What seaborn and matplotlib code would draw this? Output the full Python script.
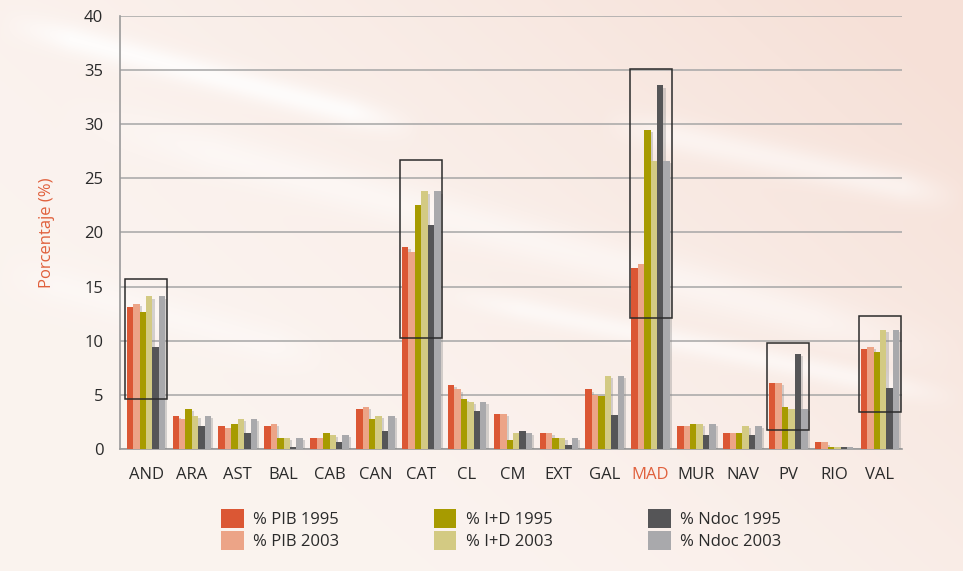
import numpy as np
import pandas as pd
import seaborn as sns
import matplotlib
matplotlib.use("Agg")
import matplotlib.pyplot as plt
from matplotlib.patches import Rectangle, Patch
import matplotlib.patheffects as pe

# ---------------- data ----------------
regions = ["AND", "ARA", "AST", "BAL", "CAB", "CAN", "CAT", "CL", "CM", "EXT",
           "GAL", "MAD", "MUR", "NAV", "PV", "RIO", "VAL"]
pib_1995  = [13.1, 3.05, 2.15, 2.15, 1.05, 3.7, 18.7, 5.95, 3.25, 1.5, 5.5, 16.7, 2.1, 1.5, 6.1, 0.62, 9.2]
pib_2003  = [13.4, 2.8, 1.95, 2.35, 1.05, 3.9, 18.2, 5.5, 3.25, 1.5, 5.0, 17.1, 2.1, 1.5, 6.1, 0.62, 9.4]
id_1995   = [12.7, 3.7, 2.35, 1.05, 1.5, 2.8, 22.5, 4.65, 0.85, 1.05, 4.85, 29.5, 2.3, 1.5, 3.9, 0.15, 8.95]
id_2003   = [14.1, 3.05, 2.8, 1.05, 1.3, 3.05, 23.8, 4.35, 1.5, 1.05, 6.75, 26.6, 2.3, 2.1, 3.7, 0.15, 11.0]
ndoc_1995 = [9.45, 2.15, 1.5, 0.2, 0.65, 1.65, 20.7, 3.55, 1.7, 0.4, 3.1, 33.6, 1.3, 1.3, 8.8, 0.15, 5.65]
ndoc_2003 = [14.1, 3.05, 2.8, 1.05, 1.3, 3.05, 23.8, 4.35, 1.5, 1.05, 6.75, 26.6, 2.3, 2.1, 3.7, 0.15, 11.0]
series_labels = ["% PIB 1995", "% PIB 2003", "% I+D 1995", "% I+D 2003", "% Ndoc 1995", "% Ndoc 2003"]
series_values = [pib_1995, pib_2003, id_1995, id_2003, ndoc_1995, ndoc_2003]
# highlighted regions: (region, lower value, upper value) of the framing box
highlight_boxes = [("AND", 4.6, 15.7), ("CAT", 10.25, 26.7), ("MAD", 12.1, 35.1),
                   ("PV", 1.8, 9.8), ("VAL", 3.4, 12.3)]
highlight_label = "MAD"
y_ticks = [0, 5, 10, 15, 20, 25, 30, 35, 40]

# ---------------- style ----------------
colors = ["#db5734", "#eca487", "#a79b00", "#d3ca83", "#555557", "#a9a9ac"]
accent = "#e0603c"
bg = "#faf0ea"

rows = []
for lab, vals in zip(series_labels, series_values):
    for r, v in zip(regions, vals):
        rows.append({"region": r, "series": lab, "value": v})
df = pd.DataFrame(rows)

sns.set_theme(style="white")
plt.rcParams["font.family"] = ["Open Sans", "DejaVu Sans"]

W, H = 963, 571
fig = plt.figure(figsize=(W / 100, H / 100), dpi=100, facecolor=bg)

# decorative background: soft peach wash with pale diagonal streaks
bax = fig.add_axes([0, 0, 1, 1], zorder=-10)
bax.set_axis_off()
yy, xx = np.mgrid[0:H, 0:W].astype(float)
base = np.array([0.984, 0.953, 0.937])
peach = np.array([0.965, 0.880, 0.845])
t = np.clip((xx / W) * 0.9 - (yy / H) * 0.6 + 0.2, 0, 1) ** 1.5
img = base[None, None, :] * (1 - t[..., None]) + peach[None, None, :] * t[..., None]
streaks = [(0, 20, 420, 130, 14, 0.8), (60, 110, 963, 360, 22, 0.45),
           (430, 290, 963, 400, 12, 0.55), (0, 270, 330, 360, 18, 0.35),
           (600, 120, 963, 200, 16, 0.5)]
light = np.zeros((H, W))
for x0, y0, x1, y1, w, s in streaks:
    dx, dy = x1 - x0, y1 - y0
    L = np.hypot(dx, dy)
    d = np.abs((xx - x0) * dy - (yy - y0) * dx) / L
    u = ((xx - x0) * dx + (yy - y0) * dy) / L ** 2
    fade = np.clip(np.minimum(u, 1 - u) * 6, 0, 1)
    light = np.maximum(light, s * np.exp(-(d / w) ** 2) * fade)
img = img * (1 - light[..., None]) + light[..., None]
bax.imshow(img, extent=[0, 1, 0, 1], aspect="auto", origin="upper")

ax = fig.add_axes([120 / W, 1 - 449 / H, 782 / W, 433 / H])
ax.set_facecolor("none")

sns.barplot(data=df, x="region", y="value", hue="series", order=regions,
            hue_order=series_labels, palette=dict(zip(series_labels, colors)),
            width=0.84, gap=0, saturation=1, legend=False, ax=ax, zorder=3,
            linewidth=0, errorbar=None)

for p in ax.patches:
    p.set_path_effects([pe.SimplePatchShadow(offset=(1.6, -1.6), shadow_rgbFace="#8a8a8a", alpha=0.35),
                        pe.Normal()])

ax.set_ylim(0, 40)
ax.set_xlim(-0.567, 16.48)
ax.set_yticks(y_ticks)
ax.yaxis.grid(True, color="#a6a6a6", lw=1.1, zorder=0)
ax.set_axisbelow(True)
for s in ["top", "right"]:
    ax.spines[s].set_visible(False)
for s in ["left", "bottom"]:
    ax.spines[s].set_color("#9a9a9a")
    ax.spines[s].set_linewidth(1.2)

ax.tick_params(axis="both", length=0, labelsize=12, colors="#2a2a2a")
ax.tick_params(axis="y", pad=12)
ax.tick_params(axis="x", pad=13)
ax.set_xlabel("")
ax.set_ylabel("Porcentaje (%)", color=accent, fontsize=12)
ax.yaxis.set_label_coords((55 - 120) / 782, 0.5)
for t_ in ax.get_xticklabels():
    if t_.get_text() == highlight_label:
        t_.set_color(accent)

for reg, lo, hi in highlight_boxes:
    i = regions.index(reg)
    ax.add_patch(Rectangle((i - 0.46, lo), 0.92, hi - lo, fill=False,
                           ec="#2b2b2b", lw=1.1, zorder=6))

# legend: three columns of two entries
col_x = [221, 433.5, 648]
fs = 12
for c in range(3):
    hs = [Patch(facecolor=colors[2 * c + k], edgecolor="none") for k in range(2)]
    fig.legend(hs, series_labels[2 * c:2 * c + 2], loc="upper left",
               bbox_to_anchor=(col_x[c] / W, 1 - 509 / H), frameon=False,
               fontsize=fs, handlelength=22.5 / (fs * 100 / 72),
               handleheight=22.5 / (fs * 100 / 72),
               handletextpad=9.6 / (fs * 100 / 72), labelspacing=3.3 / (fs * 100 / 72),
               borderpad=0, borderaxespad=0, labelcolor="#2a2a2a")

fig.savefig("out.png", dpi=100, facecolor=bg)
